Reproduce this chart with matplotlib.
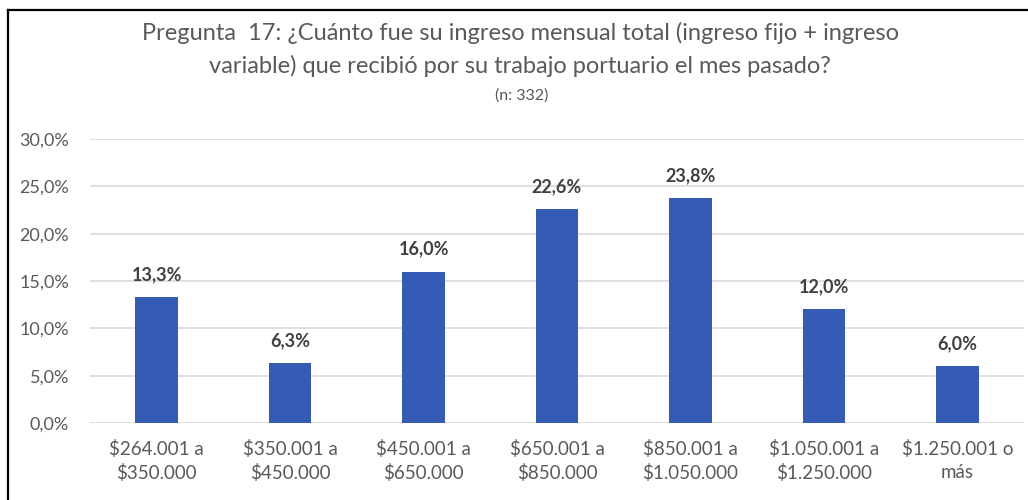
import matplotlib.pyplot as plt
from matplotlib.lines import Line2D

plt.rcParams['font.family'] = ['Lato', 'DejaVu Sans']

# datos
categorias = ['$264.001 a\n$350.000', '$350.001 a\n$450.000', '$450.001 a\n$650.000',
              '$650.001 a\n$850.000', '$850.001 a\n$1.050.000', '$1.050.001 a\n$1.250.000',
              '$1.250.001 o\nmás']
porcentajes = [13.3, 6.3, 16.0, 22.6, 23.8, 12.0, 6.0]
ticks_y = [0, 5, 10, 15, 20, 25, 30]

W, H = 1028, 500
fig = plt.figure(figsize=(W / 100, H / 100), dpi=100)

# marco (solo borde izquierdo y superior visibles)
fig.add_artist(Line2D([8 / W, 8 / W], [0, 1 - 10 / H], color='black', lw=1.6))
fig.add_artist(Line2D([8 / W, 1], [1 - 10 / H, 1 - 10 / H], color='black', lw=1.6))

ax = fig.add_axes([90 / W, 1 - 423 / H, (1024 - 90) / W, (423 - 139) / H])

x = range(len(categorias))
barras = ax.bar(x, porcentajes, width=0.32, color='#355BB5', zorder=3)

for b, v in zip(barras, porcentajes):
    ax.annotate(f'{v:.1f}%'.replace('.', ','), (b.get_x() + b.get_width() / 2, v),
                xytext=(0, 10), textcoords='offset points', ha='center', va='bottom',
                fontsize=13, fontweight='bold', color='#404040')

ax.set_xlim(-0.5, len(categorias) - 0.5)
ax.set_ylim(0, 30)
ax.set_yticks(ticks_y)
ax.set_yticklabels([f'{t:.1f}%'.replace('.', ',') for t in ticks_y])
ax.set_xticks(list(x))
ax.set_xticklabels(categorias, linespacing=1.45)
ax.tick_params(axis='y', length=0, pad=15, labelsize=13, labelcolor='#595959')
ax.tick_params(axis='x', length=0, pad=12, labelsize=13.5, labelcolor='#595959')
ax.grid(axis='y', color='#d9d9d9', lw=1.2, zorder=0)
for s in ax.spines.values():
    s.set_visible(False)

fig.text(520 / W, 1 - 33 / H, 'Pregunta  17: ¿Cuánto fue su ingreso mensual total (ingreso fijo + ingreso',
         ha='center', va='center', fontsize=17, color='#595959')
fig.text(520 / W, 1 - 66 / H, 'variable) que recibió por su trabajo portuario el mes pasado?',
         ha='center', va='center', fontsize=17, color='#595959')
fig.text(522 / W, 1 - 96 / H, '(n: 332)', ha='center', va='center', fontsize=11.5, color='#595959')

fig.savefig('out.png', dpi=100)
